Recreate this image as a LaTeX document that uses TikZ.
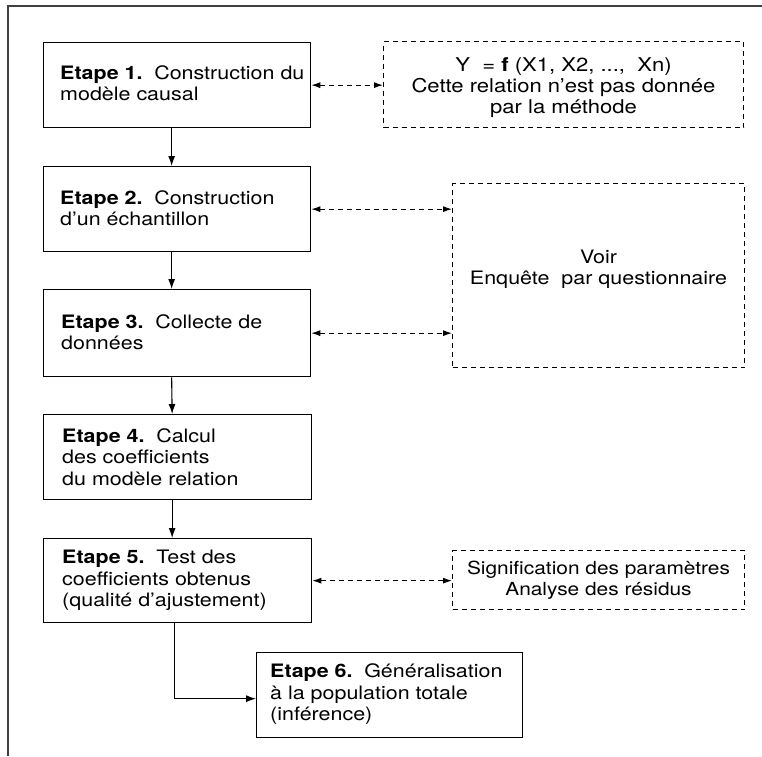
\documentclass[tikz,border=0pt]{standalone}
\usepackage{fontspec}
\setmainfont[FakeStretch=1.16]{TeX Gyre Heros}
\usetikzlibrary{arrows.meta}
\begin{document}
\begin{tikzpicture}[x=1pt,y=-1pt,
  every node/.style={font=\fontsize{18}{21.5}\selectfont},
  stepbox/.style 2 args={draw, line width=1.3pt, rectangle, anchor=north west,
    inner sep=0pt, minimum width=#1, minimum height=#2},
  steptext/.style={anchor=west, align=left, inner sep=0pt,
    font=\fontsize{18.5}{21.5}\selectfont},
  notebox/.style 2 args={draw, line width=1pt, dash pattern=on 5pt off 4pt,
    rectangle, anchor=north west, inner sep=0pt,
    minimum width=#1, minimum height=#2},
  notetext/.style={align=center, inner sep=0pt},
  flow/.style={line width=1.1pt, -{Latex[length=10pt,width=7pt]}},
  link/.style={line width=1pt, dash pattern=on 5pt off 4pt,
    {Latex[length=9pt,width=6pt]}-{Latex[length=9pt,width=6pt]}},
]
\useasboundingbox (0,0) rectangle (762,756);
\fill[white] (0,0) rectangle (762,756);

% open frame: left and top edges only
\draw[line width=1.8pt, black!75] (8,756) -- (8,6) -- (762,6);

% main steps
\node[stepbox={267pt}{85pt}] (e1) at (43,42) {};
\node[steptext] (l1) at ([xshift=17pt,yshift=2pt]e1.west)
  {\textbf{Etape 1.}\hspace{0.2em} Construction du\\modèle causal};
\node[stepbox={267pt}{85pt}] (e2) at (43,166) {};
\node[steptext] (l2) at ([xshift=17pt,yshift=1pt]e2.west)
  {\textbf{Etape 2.}\hspace{0.2em} Construction\\d'un échantillon};
\node[stepbox={267pt}{87pt}] (e3) at (43,289) {};
\node[steptext] (l3) at ([xshift=18pt,yshift=1pt]e3.west)
  {\textbf{Etape 3.}\hspace{0.2em} Collecte de\\données};
\node[stepbox={268pt}{85pt}] (e4) at (43,414) {};
\node[steptext] (l4) at ([xshift=19pt]e4.west)
  {\textbf{Etape 4.}\hspace{0.2em} Calcul\\des coefficients\\du modèle relation};
\node[stepbox={268pt}{84pt}] (e5) at (43,538) {};
\node[steptext] (l5) at ([xshift=19pt]e5.west)
  {\textbf{Etape 5.}\hspace{0.2em} Test des\\coefficients obtenus\\(qualité d'ajustement)};
\node[stepbox={266pt}{85pt}] (e6) at (256,652) {};
\node[steptext] (l6) at ([xshift=14pt,yshift=1pt]e6.west)
  {\textbf{Etape 6.}\hspace{0.2em} Généralisation\\à la population totale\\(inférence)};

% side notes
\node[notebox={360pt}{86pt}] (d1) at (383,41) {};
\node[notetext, font=\fontsize{19}{21}\selectfont] (t1) at ([yshift=-3pt]d1.center)
  {Y\ \ = \textbf{f} (X1, X2, ...,\ \ Xn)\\Cette relation n'est pas donnée\\par la méthode};
\node[notebox={292pt}{184pt}] (d2) at (452,183) {};
\node[notetext, font=\fontsize{18.5}{21}\selectfont] (t2) at ([yshift=6pt]d2.center)
  {Voir\\Enquête\ \ par questionnaire};
\node[notebox={292pt}{59pt}] (d3) at (452,550) {};
\node[notetext] (t3) at (d3.center)
  {Signification des paramètres\\Analyse des résidus};

% sequence of steps
\draw[flow] ([xshift=-5.5pt]e1.south) -- ([xshift=-5.5pt]e2.north);
\draw[flow] ([xshift=-5.5pt]e2.south) -- ([xshift=-5.5pt]e3.north);
\draw[flow] ([xshift=-5.5pt]e3.south) -- ([xshift=-5.5pt]e4.north);
\draw[flow] ([xshift=-5.5pt]e4.south) -- ([xshift=-5.5pt]e5.north);
\draw[flow] ([xshift=-3.5pt]e5.south) |- ([yshift=-3.5pt]e6.west);

% links to the notes
\draw[link] (e1.east) -- (e1.east -| d1.west);
\draw[link] (e2.east) -- (e2.east -| d2.west);
\draw[link] (e3.east) -- (e3.east -| d2.west);
\draw[link] (e5.east) -- (e5.east -| d3.west);
\end{tikzpicture}
\end{document}
